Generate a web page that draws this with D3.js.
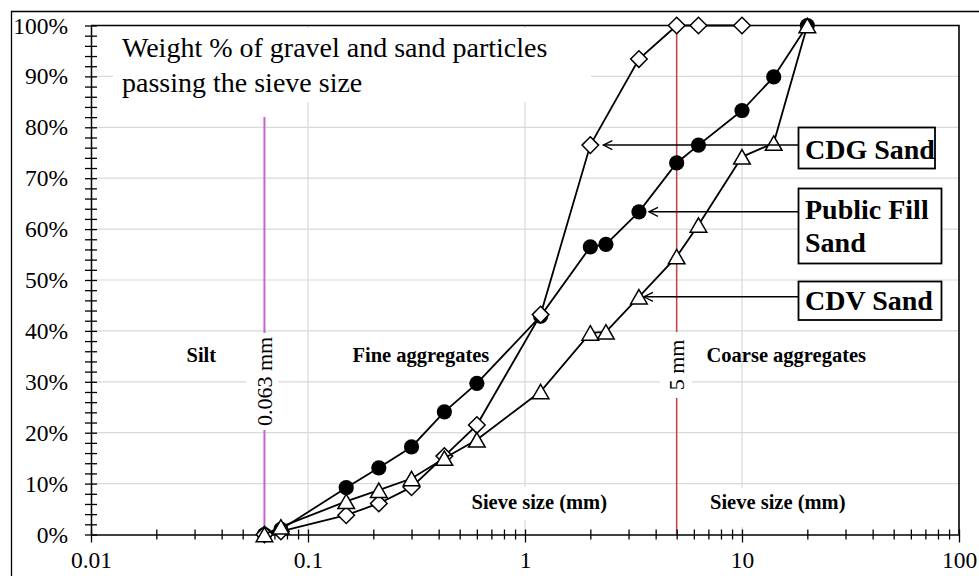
<!DOCTYPE html>
<html>
<head>
<meta charset="utf-8">
<script src="https://cdn.jsdelivr.net/npm/d3@7"></script>
<style>
  body { margin: 0; background: #fff; }
  svg { display: block; }
</style>
</head>
<body>
<div class="chart"></div>
<script>
// sieve sizes (mm) and % passing
var sieveCDG = [0.063, 0.075, 0.15, 0.212, 0.3, 0.425, 0.6, 1.18, 2, 3.35, 5, 6.3, 10];
var passCDG  = [0, 0.6, 3.8, 6.1, 9.3, 15.4, 21.5, 43.2, 76.5, 93.4, 100, 100, 100];

var sievePF = [0.063, 0.075, 0.15, 0.212, 0.3, 0.425, 0.6, 1.18, 2, 2.36, 3.35, 5, 6.3, 10, 14, 20];
var passPF  = [0, 1, 9.2, 13.1, 17.2, 24.1, 29.7, 42.9, 56.5, 57, 63.4, 73, 76.5, 83.3, 89.9, 100];

var sieveCDV = [0.063, 0.075, 0.15, 0.212, 0.3, 0.425, 0.6, 1.18, 2, 2.36, 3.35, 5, 6.3, 10, 14, 20];
var passCDV  = [0, 1.5, 6.5, 8.7, 11, 15, 18.6, 28.1, 39.6, 39.8, 46.7, 54.6, 60.8, 74.2, 76.9, 100];

var seriesNames = ["CDG Sand", "Public Fill Sand", "CDV Sand"];

// axis ticks
var yTickValues = d3.range(0, 101, 2);
var yGridValues = [10, 20, 30, 40, 50, 60, 70, 80, 90];
var xDecades = [0.01, 0.1, 1, 10, 100];
var xTickLabels = ["0.01", "0.1", "1", "10", "100"];
var xGridValues = [0.1, 1, 10];

// reference sieve lines: 0.063 mm (silt limit) and 5 mm (fine / coarse)
var refSizes = [0.063, 5];
var refTops = [82, 100];
var refLabels = ["0.063 mm", "5 mm"];

var svgWidth = 979;
var svgHeight = 576;
var margin = { top: 25.5, right: 20, bottom: 41.5, left: 91 };
var serif = "'Liberation Serif', 'Times New Roman', serif";

var svg = d3.select(".chart")
  .append("svg")
  .attr("width", svgWidth)
  .attr("height", svgHeight);

var x0 = margin.left, x1 = svgWidth - margin.right;
var y0 = svgHeight - margin.bottom, y1 = margin.top;

var xScale = d3.scaleLog().domain([0.01, 100]).range([x0, x1]);
var yScale = d3.scaleLinear().domain([0, 100]).range([y0, y1]);

// outer frame (only top and left visible)
svg.append("path")
  .attr("d", "M11.5,576V11.5H979")
  .attr("fill", "none")
  .attr("stroke", "#000")
  .attr("stroke-width", 1.3);

// gridlines
svg.append("g").selectAll("line")
  .data(yGridValues).enter().append("line")
  .attr("x1", x0).attr("x2", x1)
  .attr("y1", d => yScale(d)).attr("y2", d => yScale(d))
  .attr("stroke", "#d9d9d9").attr("stroke-width", 1.2);

svg.append("g").selectAll("line")
  .data(xGridValues).enter().append("line")
  .attr("x1", d => xScale(d)).attr("x2", d => xScale(d))
  .attr("y1", y0).attr("y2", y1)
  .attr("stroke", "#d9d9d9").attr("stroke-width", 1.2);

// reference lines
var refColors = ["#c864d2", "#c8464b"];
svg.append("g").selectAll("line")
  .data(refSizes).enter().append("line")
  .attr("x1", d => xScale(d)).attr("x2", d => xScale(d))
  .attr("y1", y0).attr("y2", (d, i) => yScale(refTops[i]))
  .attr("stroke", (d, i) => refColors[i])
  .attr("stroke-width", (d, i) => i === 0 ? 2 : 1.6);

// white backgrounds of the text boxes (they hide grid and reference lines)
var blanks = [
  [113, 28, 478, 74],     // title block
  [246.5, 333, 31.5, 97], // 0.063 mm
  [660, 332, 32, 66],     // 5 mm
  [468, 487, 145, 33],    // sieve size (fine)
  [706, 488, 146, 39]     // sieve size (coarse)
];
svg.append("g").selectAll("rect")
  .data(blanks).enter().append("rect")
  .attr("x", d => d[0]).attr("y", d => d[1])
  .attr("width", d => d[2]).attr("height", d => d[3])
  .attr("fill", "#fff");

// title block
svg.append("text")
  .attr("font-family", serif).attr("font-size", 28)
  .selectAll("tspan")
  .data(["Weight % of gravel and sand particles", "passing the sieve size"])
  .enter().append("tspan")
  .attr("x", 122).attr("y", (d, i) => 56.5 + i * 35)
  .text(d => d);

// region labels
var regionLabels = [
  { t: "Silt", x: 186.5, y: 362 },
  { t: "Fine aggregates", x: 352.5, y: 362 },
  { t: "Coarse aggregates", x: 706.5, y: 362 },
  { t: "Sieve size (mm)", x: 471.5, y: 509 },
  { t: "Sieve size (mm)", x: 710, y: 509 }
];
svg.append("g").selectAll("text")
  .data(regionLabels).enter().append("text")
  .attr("x", d => d.x).attr("y", d => d.y)
  .attr("font-family", serif).attr("font-size", 20.5).attr("font-weight", "bold")
  .text(d => d.t);

// rotated labels on the reference lines
var refLabelY = [381.5, 365];
svg.append("g").selectAll("text")
  .data(refSizes).enter().append("text")
  .attr("transform", (d, i) => `translate(${xScale(d) + 7.5}, ${refLabelY[i]}) rotate(-90)`)
  .attr("text-anchor", "middle")
  .attr("font-family", serif).attr("font-size", 22)
  .text((d, i) => refLabels[i]);

// axes
var leftAxis = d3.axisLeft(yScale)
  .tickValues(yTickValues)
  .tickSizeInner(6).tickSizeOuter(0).tickPadding(17)
  .tickFormat(d => d % 10 === 0 ? d + "%" : "");

var gy = svg.append("g")
  .attr("transform", `translate(${x0}, 0)`)
  .call(leftAxis);
gy.selectAll(".tick line").attr("x1", 6).attr("stroke", "#000").attr("stroke-width", 1.3);
gy.select(".domain").attr("stroke", "#000").attr("stroke-width", 1.5);
gy.selectAll("text").attr("font-family", serif).attr("font-size", 23.5).attr("fill", "#000");

var xTickValues = [];
xDecades.forEach(function (d, i) {
  xTickValues.push(d);
  if (i < xDecades.length - 1) {
    for (var k = 2; k <= 9; k++) xTickValues.push(d * k);
  }
});

var bottomAxis = d3.axisBottom(xScale)
  .tickValues(xTickValues)
  .tickSizeInner(5).tickSizeOuter(0)
  .tickFormat(d => {
    var i = xDecades.indexOf(d);
    return i >= 0 ? xTickLabels[i] : "";
  });

var gx = svg.append("g")
  .attr("transform", `translate(0, ${y0})`)
  .call(bottomAxis);
gx.selectAll(".tick line")
  .attr("y1", -5)
  .attr("y2", d => xDecades.indexOf(d) >= 0 ? 8 : 5)
  .attr("stroke", "#000").attr("stroke-width", 1.3);
gx.select(".domain").attr("stroke", "#000").attr("stroke-width", 1.5);
gx.selectAll("text")
  .attr("y", 33).attr("dy", 0)
  .attr("font-family", serif).attr("font-size", 23.5).attr("fill", "#000");

// plot border top and right
svg.append("path")
  .attr("d", `M${x0},${y1}H${x1}V${y0}`)
  .attr("fill", "none").attr("stroke", "#000").attr("stroke-width", 1.6);

// data series: line, then markers
var series = {
  pf: d3.zip(sievePF, passPF),
  cdg: d3.zip(sieveCDG, passCDG),
  cdv: d3.zip(sieveCDV, passCDV)
};

var line = d3.line()
  .x(d => xScale(d[0]))
  .y(d => yScale(d[1]));

var markerPaths = {
  pf: null,
  cdg: "M0,-8.3L8.3,0L0,8.3L-8.3,0Z",
  cdv: "M0,-7.2L8.3,7.2L-8.3,7.2Z"
};

["pf", "cdg", "cdv"].forEach(function (key) {
  var g = svg.append("g");
  g.append("path")
    .attr("d", line(series[key]))
    .attr("fill", "none").attr("stroke", "#000").attr("stroke-width", 1.8);
  if (key === "pf") {
    g.selectAll("circle")
      .data(series[key]).enter().append("circle")
      .attr("cx", d => xScale(d[0])).attr("cy", d => yScale(d[1]))
      .attr("r", 7.6).attr("fill", "#000");
  } else {
    g.selectAll(".mk")
      .data(series[key]).enter().append("path")
      .attr("class", "mk")
      .attr("transform", d => `translate(${xScale(d[0])}, ${yScale(d[1])})`)
      .attr("d", markerPaths[key])
      .attr("fill", "#fff").attr("stroke", "#000").attr("stroke-width", 1.5);
  }
});

// legend boxes with arrows pointing to one point of each curve
var legendBoxes = [
  { key: "cdg", lines: ["CDG Sand"], box: [798.5, 127.5, 136.5, 41], base: 158.5, idx: 8, gap: 13 },
  { key: "pf", lines: ["Public Fill", "Sand"], box: [798.5, 188.5, 143, 75], base: 218.5, idx: 10, gap: 10 },
  { key: "cdv", lines: ["CDV Sand"], box: [798.5, 281.5, 143, 38.5], base: 309.5, idx: 10, gap: 5 }
];

var legendGroup = svg.append("g");
legendBoxes.forEach(function (L) {
  var pt = series[L.key][L.idx];
  var tipX = xScale(pt[0]) + L.gap;
  var ay = yScale(pt[1]);
  legendGroup.append("line")
    .attr("x1", L.box[0]).attr("x2", tipX)
    .attr("y1", ay).attr("y2", ay)
    .attr("stroke", "#000").attr("stroke-width", 1.5);
  legendGroup.append("path")
    .attr("d", `M${tipX + 9},${ay - 4.5}L${tipX},${ay}L${tipX + 9},${ay + 4.5}`)
    .attr("fill", "none").attr("stroke", "#000").attr("stroke-width", 1.3);
  legendGroup.append("rect")
    .attr("x", L.box[0]).attr("y", L.box[1])
    .attr("width", L.box[2]).attr("height", L.box[3])
    .attr("fill", "#fff").attr("stroke", "#000").attr("stroke-width", 1.8);
  legendGroup.append("text")
    .attr("font-family", serif).attr("font-size", 28).attr("font-weight", "bold")
    .selectAll("tspan")
    .data(L.lines).enter().append("tspan")
    .attr("x", 805).attr("y", (d, i) => L.base + i * 33.5)
    .text(d => d);
});
</script>
</body>
</html>
